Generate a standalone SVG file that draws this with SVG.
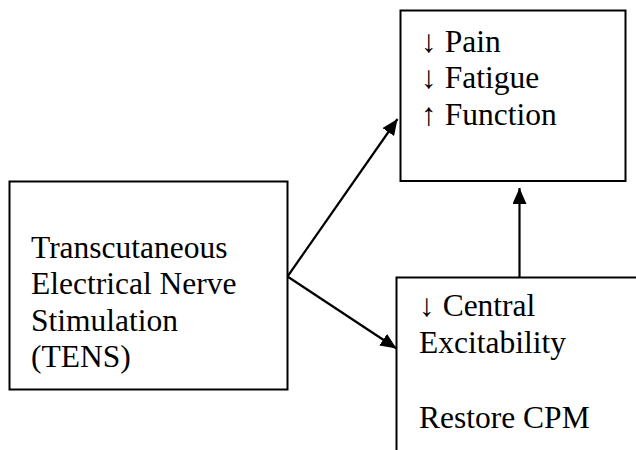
<svg xmlns="http://www.w3.org/2000/svg" width="636" height="450" viewBox="0 0 636 450">
  <style>
    .box { fill: #ffffff; stroke: #000000; stroke-width: 2; }
    .label { font-family: 'Liberation Serif', serif; font-size: 31.5px; fill: #000000; }
    .edge { fill: none; stroke: #000000; stroke-width: 2.2; }
  </style>
  <defs>
    <marker id="arrow" markerUnits="userSpaceOnUse" markerWidth="18" markerHeight="14" refX="16" refY="7" orient="auto">
      <path d="M0,0 L16,7 L0,14 Z" fill="#000000"/>
    </marker>
  </defs>
  <rect x="0" y="0" width="636" height="450" fill="#ffffff"/>

  <g id="node-tens">
    <rect class="box" x="9.5" y="181.5" width="278" height="208"/>
    <text class="label">
      <tspan x="31" y="257.5">Transcutaneous</tspan>
      <tspan x="31" y="294">Electrical Nerve</tspan>
      <tspan x="31" y="330.5">Stimulation</tspan>
      <tspan x="31" y="367">(TENS)</tspan>
    </text>
  </g>

  <g id="node-outcomes">
    <rect class="box" x="400.5" y="10.5" width="225" height="170.5"/>
    <text class="label">
      <tspan x="421" y="51.5">↓ Pain</tspan>
      <tspan x="421" y="88">↓ Fatigue</tspan>
      <tspan x="421" y="124.5">↑ Function</tspan>
    </text>
  </g>

  <g id="node-central">
    <rect class="box" x="396.5" y="277.5" width="260" height="200"/>
    <text class="label">
      <tspan x="419" y="316">↓ Central</tspan>
      <tspan x="419" y="352.5">Excitability</tspan>
      <tspan x="419" y="427.5">Restore CPM</tspan>
    </text>
  </g>

  <g id="connectors">
    <line class="edge" x1="287.5" y1="276.5" x2="397.5" y2="119" marker-end="url(#arrow)"/>
    <line class="edge" x1="287.5" y1="276.5" x2="396.5" y2="348.5" marker-end="url(#arrow)"/>
    <line class="edge" x1="519.5" y1="277.5" x2="519.5" y2="188" marker-end="url(#arrow)"/>
  </g>
</svg>
